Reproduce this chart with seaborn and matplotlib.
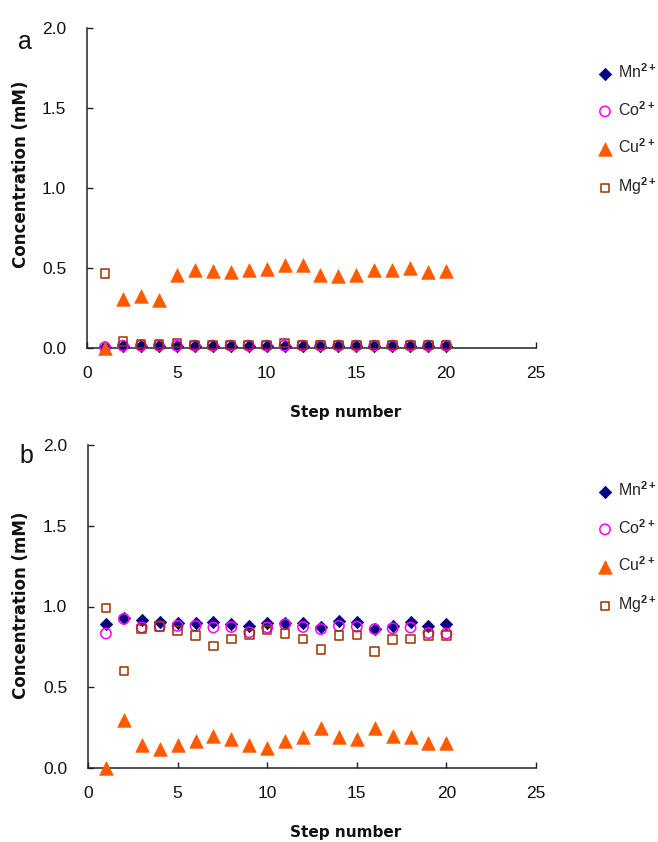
import matplotlib
matplotlib.use("Agg")
import matplotlib.pyplot as plt
import seaborn as sns

# ---------------- data ----------------
steps = list(range(1, 21))

# panel a
mn_a = [0.005, 0.01, 0.01, 0.01, 0.015, 0.01, 0.01, 0.01, 0.01, 0.015,
        0.01, 0.01, 0.01, 0.01, 0.01, 0.01, 0.01, 0.01, 0.01, 0.01]
co_a = [0.005, 0.015, 0.015, 0.015, 0.015, 0.015, 0.015, 0.015, 0.015, 0.015,
        0.015, 0.015, 0.015, 0.015, 0.015, 0.015, 0.015, 0.015, 0.015, 0.015]
cu_a = [0.0, 0.307, 0.324, 0.300, 0.458, 0.485, 0.479, 0.472, 0.487, 0.494,
        0.517, 0.519, 0.455, 0.447, 0.458, 0.485, 0.485, 0.498, 0.472, 0.479]
mg_a = [0.464, 0.04, 0.025, 0.025, 0.03, 0.02, 0.02, 0.02, 0.02, 0.02,
        0.03, 0.02, 0.02, 0.02, 0.02, 0.02, 0.02, 0.02, 0.02, 0.02]

# panel b
mn_b = [0.89, 0.93, 0.917, 0.906, 0.90, 0.90, 0.906, 0.89, 0.88, 0.896,
        0.90, 0.898, 0.873, 0.908, 0.906, 0.86, 0.88, 0.906, 0.88, 0.89]
co_b = [0.833, 0.923, 0.87, 0.877, 0.88, 0.88, 0.87, 0.873, 0.84, 0.87,
        0.89, 0.873, 0.86, 0.88, 0.875, 0.86, 0.865, 0.87, 0.835, 0.833]
cu_b = [0.0, 0.30, 0.14, 0.12, 0.14, 0.17, 0.20, 0.18, 0.14, 0.125,
        0.17, 0.19, 0.25, 0.19, 0.18, 0.25, 0.20, 0.19, 0.156, 0.156]
mg_b = [0.99, 0.60, 0.86, 0.875, 0.85, 0.82, 0.756, 0.80, 0.827, 0.854,
        0.833, 0.80, 0.735, 0.82, 0.823, 0.72, 0.796, 0.80, 0.82, 0.82]

ion_labels = [r"Mn$^{\mathbf{2+}}$", r"Co$^{\mathbf{2+}}$",
              r"Cu$^{\mathbf{2+}}$", r"Mg$^{\mathbf{2+}}$"]
x_ticks = [0, 5, 10, 15, 20, 25]
y_ticks = [0.0, 0.5, 1.0, 1.5, 2.0]
y_ticklabels = ["0.0", "0.5", "1.0", "1.5", "2.0"]
panel_names = ["a", "b"]
xlabel = "Step number"
ylabel = "Concentration (mM)"

# ---------------- style ----------------
sns.set_style("white")
plt.rcParams["font.family"] = ["Liberation Sans", "DejaVu Sans"]
plt.rcParams["mathtext.fontset"] = "custom"
plt.rcParams["mathtext.rm"] = "Liberation Sans"
plt.rcParams["mathtext.bf"] = "Liberation Sans:bold"

W, H = 658, 842
fig = plt.figure(figsize=(W / 100, H / 100), dpi=100)
fig.patch.set_facecolor("white")


def px_axes(l, t, r, b):
    return fig.add_axes([l / W, 1 - b / H, (r - l) / W, (b - t) / H])


styles = [
    dict(marker="D", s=40, color="#000080", open=False),
    dict(marker="o", s=55, color="#FF00FF", open=True),
    dict(marker="^", s=95, color="#FF5A00", open=False),
    dict(marker="s", s=38, color="#993300", open=True),
]

axes_px = [(87, 28, 536, 348), (88, 445, 536, 768)]
datasets = [[mn_a, co_a, cu_a, mg_a], [mn_b, co_b, cu_b, mg_b]]
xlabel_pos = [(346, 412), (346, 832)]
ylabel_pos = [(21, 174), (21, 605)]
panel_pos = [(25, 49), (26, 463)]
legend_top = [62, 480]
axis_col = "#222222"

for i, (box, data) in enumerate(zip(axes_px, datasets)):
    ax = px_axes(*box)
    for vals, st, lab in zip(data, styles, ion_labels):
        if st["open"]:
            sns.scatterplot(x=steps, y=vals, ax=ax, marker=st["marker"], s=st["s"],
                            color=st["color"], facecolor="none", edgecolor=st["color"],
                            linewidth=1.1, label=lab, clip_on=False, zorder=3)
        else:
            sns.scatterplot(x=steps, y=vals, ax=ax, marker=st["marker"], s=st["s"],
                            color=st["color"], edgecolor=st["color"],
                            linewidth=0.5, label=lab, clip_on=False, zorder=3)
    ax.set_xlim(0, 25)
    ax.set_ylim(0, 2)
    ax.set_xticks(x_ticks)
    ax.set_xticklabels([str(t) for t in x_ticks])
    ax.set_yticks(y_ticks)
    ax.set_yticklabels(y_ticklabels)
    for side in ("top", "right"):
        ax.spines[side].set_visible(False)
    for side in ("left", "bottom"):
        ax.spines[side].set_color(axis_col)
        ax.spines[side].set_linewidth(1.1)
    ax.tick_params(axis="both", direction="in", length=4, width=1.0,
                   color=axis_col, labelsize=12.5, labelcolor="#111111",
                   bottom=True, left=True, top=False, right=False)
    ax.tick_params(axis="x", pad=13)
    ax.tick_params(axis="y", pad=15)
    ax.set_xlabel("")
    ax.set_ylabel("")

    xx, xy = xlabel_pos[i]
    fig.text(xx / W, 1 - xy / H, xlabel, ha="center", va="center",
             fontsize=11, fontweight="bold", family="DejaVu Sans", color="#111111")
    yx, yy = ylabel_pos[i]
    fig.text(yx / W, 1 - yy / H, ylabel, ha="center", va="center", rotation=90,
             fontsize=12, fontweight="bold", family="DejaVu Sans", color="#111111")
    px, py = panel_pos[i]
    fig.text(px / W, 1 - py / H, panel_names[i], ha="center", va="baseline",
             fontsize=18, color="#111111")

    handles, labels = ax.get_legend_handles_labels()
    ax.legend(handles, labels, loc="upper left",
              bbox_to_anchor=(597 / W, 1 - legend_top[i] / H),
              bbox_transform=fig.transFigure, frameon=False, fontsize=11.5,
              borderpad=0, borderaxespad=0, handlelength=1.0,
              handletextpad=0.3, labelspacing=1.2, scatterpoints=1)

fig.savefig("out.png", dpi=100, facecolor="white")
